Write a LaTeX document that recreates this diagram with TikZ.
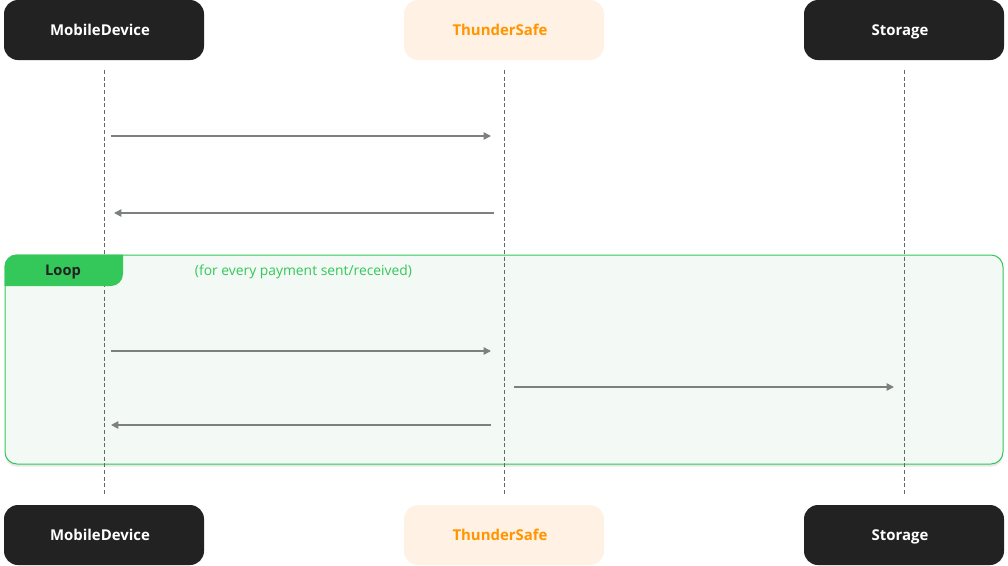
\documentclass[tikz,border=0pt]{standalone}
\usepackage{fontspec}
\setmainfont{Open Sans}
\usetikzlibrary{arrows.meta, positioning, shadows}

\definecolor{boxdark}{HTML}{222222}
\definecolor{safebg}{HTML}{FFF1E3}
\definecolor{safefg}{HTML}{FF9500}
\definecolor{loopgreen}{HTML}{34C759}
\definecolor{loopbg}{HTML}{F3F9F5}
\definecolor{msggray}{HTML}{7C817E}

\begin{document}
\begin{tikzpicture}[x=0.75pt, y=-0.75pt, thick]

	\tikzset{
		actor/.style={
				rectangle, rounded corners=10.5pt, fill=boxdark, text=white, inner sep=0pt, outer sep=0pt,
				minimum width=150pt, minimum height=45pt, text height=7.8pt, text depth=0pt,
				font=\fontsize{11.2}{13}\selectfont\bfseries, execute at end node={\kern6pt}
			},
		safe/.style={
				actor, fill=safebg, text=safefg
			},
		lifeline/.style={
				draw=black!60, line width=0.6pt, dash pattern=on 3pt off 2pt
			},
		msg/.style={
				draw=msggray, line width=1.1pt, -{Triangle[length=5.5pt, width=5.5pt]}
			},
		loopbox/.style={
				rectangle, rounded corners=9pt, draw=loopgreen, fill=loopbg, line width=0.75pt,
				drop shadow={shadow xshift=0pt, shadow yshift=-2pt, opacity=0.18}
			},
	}

	\useasboundingbox (0,0) rectangle (1008,565);

	\node[actor] (md) at (104,30) {MobileDevice};
	\node[safe, right=150pt of md] (ts) {ThunderSafe};
	\node[actor, right=150pt of ts] (st) {Storage};
	\node[actor, below=333.75pt of md] (mdb) {MobileDevice};
	\node[safe, below=333.75pt of ts] (tsb) {ThunderSafe};
	\node[actor, below=333.75pt of st] (stb) {Storage};

	% loop frame
	\node[loopbox, minimum width=748.5pt, minimum height=156.75pt] (loop) at (504,359.5) {};

	\draw[lifeline] ([yshift=-7.5pt]md.south) -- ([yshift=7.5pt]mdb.north);
	\draw[lifeline] ([yshift=-7.5pt]ts.south) -- ([yshift=7.5pt]tsb.north);
	\draw[lifeline] ([yshift=-7.5pt]st.south) -- ([yshift=7.5pt]stb.north);

	\begin{scope}
		\clip[rounded corners=9pt] (loop.north west) rectangle (loop.south east);
		\fill[loopgreen, rounded corners=9pt] (-20,235) rectangle (123,286);
	\end{scope}
	\node[font=\fontsize{11}{13}\selectfont\bfseries, text=boxdark, text height=7.8pt, text depth=0pt] (looptag) at (63,270.5) {Loop};
	\node[font=\fontsize{10.4}{12}\selectfont, text=loopgreen, text height=7.6pt, text depth=0pt] (loopcond) at (303.5,270.5) {(for every payment sent/received)};

	\coordinate (md1) at (111,136);
	\coordinate (ts1) at (491,136);
	\coordinate (ts2) at (494,213);
	\coordinate (md2) at (114,213);
	\coordinate (md3) at (111,351);
	\coordinate (ts3) at (491,351);
	\coordinate (ts4) at (514,387);
	\coordinate (st4) at (894,387);
	\coordinate (ts5) at (491,425);
	\coordinate (md5) at (111,425);

	\draw[msg] (md1) -- (ts1);
	\draw[msg] (ts2) -- (md2);
	\draw[msg] (md3) -- (ts3);
	\draw[msg] (ts4) -- (st4);
	\draw[msg] (ts5) -- (md5);
\end{tikzpicture}
\end{document}
